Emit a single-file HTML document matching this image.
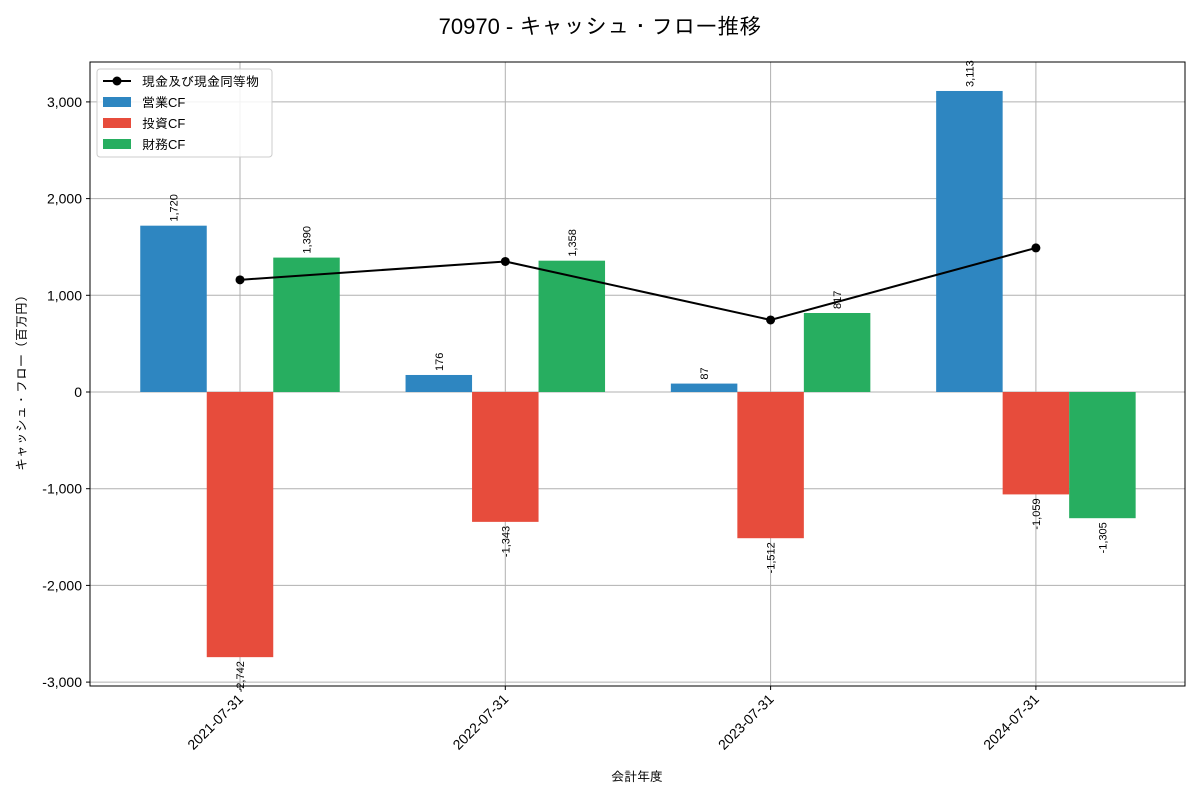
<!DOCTYPE html>
<html><head><meta charset="utf-8"><style>
body{margin:0;background:#fff;}
svg text{font-family:"Liberation Sans","IPAGothic","Noto Sans CJK JP",sans-serif;}
</style></head><body>
<svg id="c" width="1200" height="800" xmlns="http://www.w3.org/2000/svg"></svg>
<script>
const categories=["2021-07-31","2022-07-31","2023-07-31","2024-07-31"];
const operatingCF=[1720,176,87,3113];
const investingCF=[-2742,-1343,-1512,-1059];
const financingCF=[1390,1358,817,-1305];
const cashBalance=[1160,1350,745,1490];
const yTicks=[-3000,-2000,-1000,0,1000,2000,3000];
const yTickLabels=["-3,000","-2,000","-1,000","0","1,000","2,000","3,000"];

const NS="http://www.w3.org/2000/svg";
const svg=document.getElementById('c');
const L=90,R=1185,T=62,B=686;
const y=v=>392-v*0.0967;
const x=i=>240+i*265.3;
const bw=66.5;
function el(tag,attrs,parent){const e=document.createElementNS(NS,tag);for(const k in attrs)e.setAttribute(k,attrs[k]);(parent||svg).appendChild(e);return e;}
function fmt(v){return v.toLocaleString('en-US');}

const title=el('text',{x:600,y:34,'text-anchor':'middle','font-size':22,fill:'#000'});


title.textContent="70970 - キャッシュ・フロー推移";

// grid
yTicks.forEach((t,k)=>{
  const g=el('line',{x1:L,x2:R,y1:y(t),y2:y(t),stroke:'#b0b0b0','stroke-width':1});
  
  
  el('line',{x1:L-4,x2:L,y1:y(t),y2:y(t),stroke:'#000'});
  const tl=el('text',{x:L-8,y:y(t)+5,'text-anchor':'end','font-size':14});
  
  
  tl.textContent=yTickLabels[k];
});
categories.forEach((c,i)=>{
  const g=el('line',{x1:x(i),x2:x(i),y1:T,y2:B,stroke:'#b0b0b0','stroke-width':1});
  
  
  el('line',{x1:x(i),x2:x(i),y1:B,y2:B+4,stroke:'#000'});
  const tl=el('text',{x:0,y:0,'text-anchor':'end','font-size':14,transform:`translate(${x(i)+4},${B+14}) rotate(-45)`});
  
  
  tl.textContent=c;
});

const series=[[operatingCF,'#2e86c1',-1,'operating-cf-bar'],[investingCF,'#e74c3c',0,'investing-cf-bar'],[financingCF,'#27ae60',1,'financing-cf-bar']];
series.forEach(([vals,col,off,name])=>{
  vals.forEach((v,i)=>{
    const cx=x(i)+off*bw;
    const top=Math.min(y(v),y(0)),h=Math.abs(y(v)-y(0));
    const r=el('rect',{x:cx-bw/2,y:top,width:bw,height:h,fill:col});
    
    
    const ty=v>=0?y(v)-4:y(v)+4;
    const lb=el('text',{x:0,y:0,'font-size':11,'text-anchor':v>=0?'start':'end',transform:`translate(${cx+4},${ty}) rotate(-90)`});
    
    
    lb.textContent=fmt(v);
  });
});

// cash line
const pts=cashBalance.map((v,i)=>`${x(i)},${y(v)}`).join(' ');
const pl=el('polyline',{points:pts,fill:'none',stroke:'#000','stroke-width':2});


cashBalance.forEach((v,i)=>{
  const p=el('circle',{cx:x(i),cy:y(v),r:4.5,fill:'#000'});
  
  
});

const frame=el('rect',{x:L,y:T,width:R-L,height:B-T,fill:'none',stroke:'#000','stroke-width':1});



const xt=el('text',{x:637,y:781,'text-anchor':'middle','font-size':13});


xt.textContent="会計年度";
const yt=el('text',{x:0,y:0,'text-anchor':'middle','font-size':13,transform:'translate(26,380) rotate(-90)'});


yt.textContent="キャッシュ・フロー（百万円）";

// legend
const lg=el('g',{});


el('rect',{x:97,y:69,width:175,height:88,rx:3,fill:'#fff','fill-opacity':0.85,stroke:'#ccc'},lg);
const entries=[['現金及び現金同等物',null],['営業CF','#2e86c1'],['投資CF','#e74c3c'],['財務CF','#27ae60']];
entries.forEach(([t,col],k)=>{
  const cy=81+k*21;
  const g=el('g',{},lg);
  
  
  if(col) el('rect',{x:103,y:cy-5,width:28,height:10,fill:col},g);
  else{el('line',{x1:103,x2:131,y1:cy,y2:cy,stroke:'#000','stroke-width':2},g);el('circle',{cx:117,cy:cy,r:4.5,fill:'#000'},g);}
  const tx=el('text',{x:142,y:cy+5,'font-size':13},g);
  tx.textContent=t;
});
</script>
</body></html>
